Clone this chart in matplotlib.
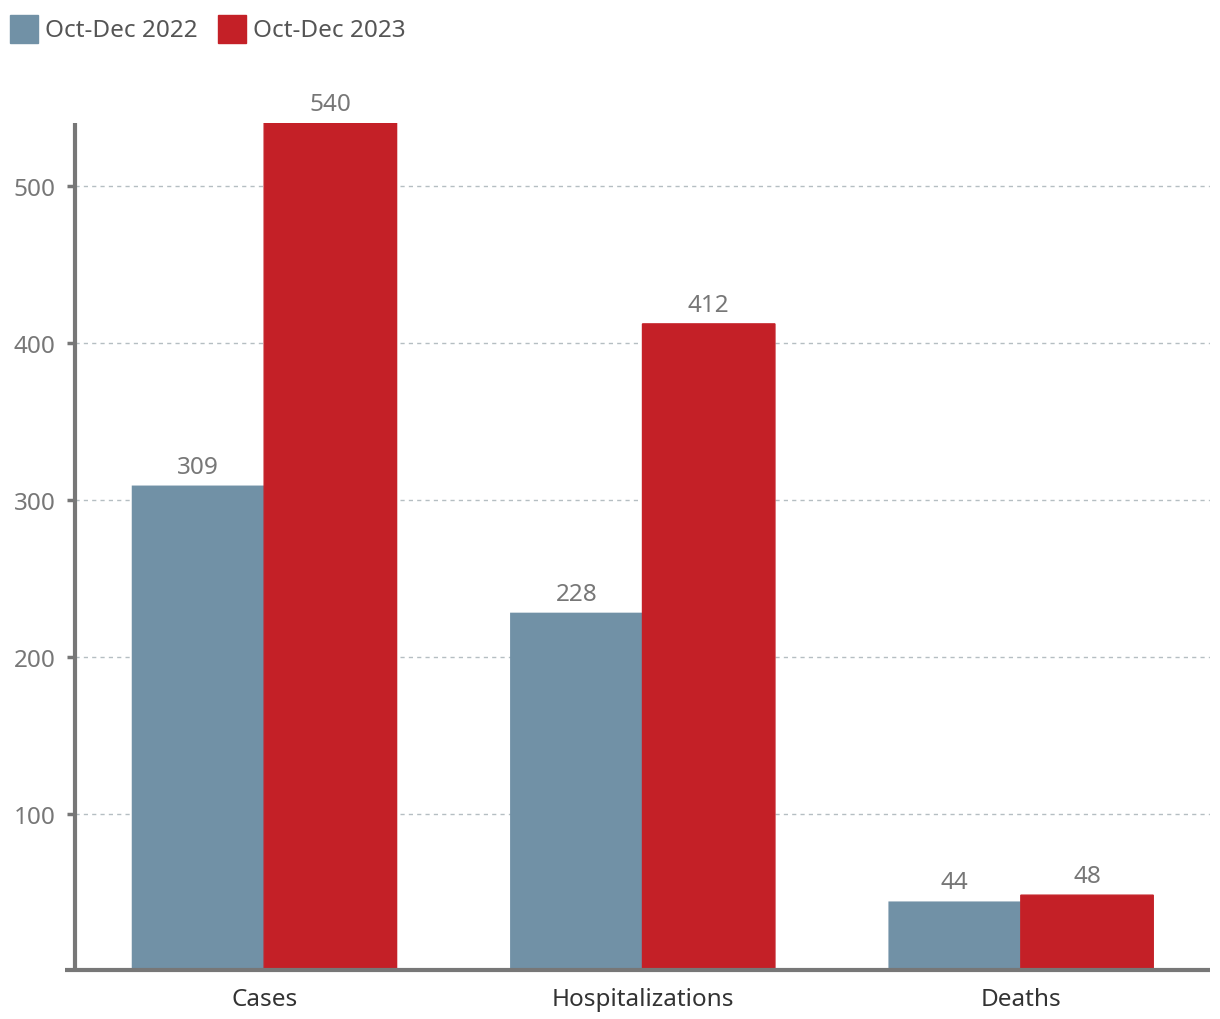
import matplotlib
matplotlib.use("Agg")
import matplotlib.pyplot as plt
from matplotlib.patches import Rectangle
from matplotlib.lines import Line2D
import numpy as np

categories = ["Cases", "Hospitalizations", "Deaths"]
series_names = ["Oct-Dec 2022", "Oct-Dec 2023"]
values_2022 = [309, 228, 44]
values_2023 = [540, 412, 48]
yticks = [100, 200, 300, 400, 500]

colors = ["#7191a6", "#c42027"]
W, H = 1220, 1020
plt.rcParams['font.family'] = ['Noto Sans', 'DejaVu Sans']
FS = 17.5

fig = plt.figure(figsize=(W/100, H/100), dpi=100)
ax = fig.add_axes([75/W, (H-971.5)/H, (1210-75)/W, (971.5-124)/H])

x = np.arange(len(categories))
bw = 0.35
b1 = ax.bar(x - bw/2, values_2022, bw, color=colors[0], linewidth=0, zorder=3)
b2 = ax.bar(x + bw/2, values_2023, bw, color=colors[1], edgecolor=colors[1],
            linewidth=1.0, zorder=4)
for r in list(b1) + list(b2):
    r.set_snap(False)
for bars, vals in ((b1, values_2022), (b2, values_2023)):
    for r, v in zip(bars, vals):
        ax.annotate(str(v), (r.get_x() + r.get_width()/2, v), xytext=(0, 5),
                    textcoords="offset points", ha="center", va="bottom",
                    fontsize=FS, color="#777777")

ax.set_xlim(-0.5, 2.5)
ax.set_ylim(0, 540)
ax.set_yticks(yticks)
ax.set_yticklabels([str(t) for t in yticks], fontsize=FS, color="#777777")
ax.set_xticks(x)
ax.set_xticklabels(categories, fontsize=FS, color="#333333")
ax.tick_params(axis='y', length=6, width=2.5, color="#777777", pad=8)
ax.tick_params(axis='x', length=0, pad=12)
ax.yaxis.grid(True, linestyle=(0, (3, 3)), color="#b5bec2", linewidth=1, zorder=0)
for s in ("top", "right"):
    ax.spines[s].set_visible(False)
ax.spines["left"].set_color("#777777")
ax.spines["left"].set_linewidth(3)
ax.spines["left"].set_capstyle("butt")
ax.spines["bottom"].set_visible(False)
fig.add_artist(Line2D([65/W, 1210/W], [(H-971)/H]*2, color="#777777", linewidth=3,
                      solid_capstyle="butt", zorder=5))

# legend
for name, c, lx in zip(series_names, colors, [10, 218]):
    fig.add_artist(Rectangle((lx/W, (H-44)/H), 28/W, 28/H, color=c, transform=fig.transFigure))
    fig.text((lx+35)/W, (H-31)/H, name, fontsize=FS, color="#555555", va="center", ha="left")

fig.savefig("out.png", dpi=100)
